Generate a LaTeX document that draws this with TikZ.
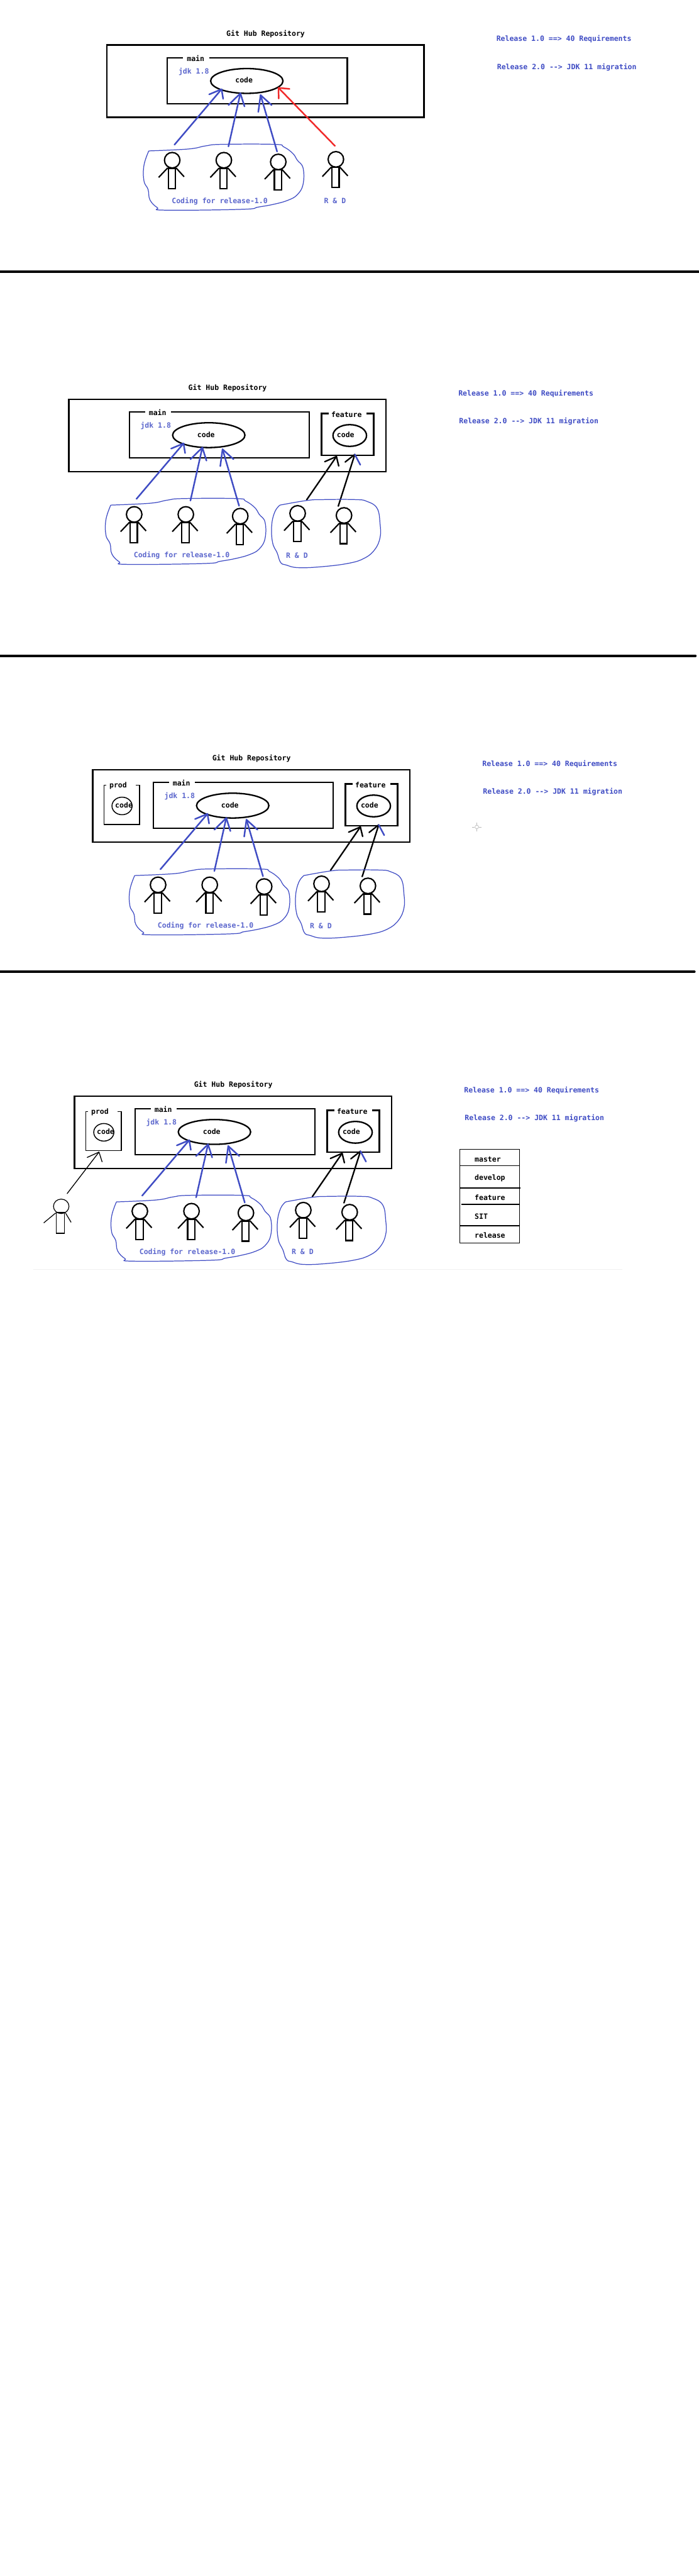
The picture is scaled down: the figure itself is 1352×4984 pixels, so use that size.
\documentclass[tikz,border=0pt]{standalone}
\usepackage{fontspec}
\usetikzlibrary{shapes.geometric}
\newfontfamily\diagmono{DejaVu Sans Mono}
\definecolor{penblue}{HTML}{3F4CC4}
\definecolor{penred}{HTML}{F02A2A}
\tikzset{
  panelscope/.style 2 args={shift={(180pt+#1pt,-30pt-#2pt)},x=0.4444pt,y=-0.3333pt},
  repo/.style={draw=black,line width=3.2pt,line join=miter},
  branch/.style={draw=black,line width=2.8pt,line join=miter},
  thinbranch/.style={draw=black,line width=1.8pt,line join=miter},
  blackline/.style={draw=black,line width=2.8pt,line cap=round,line join=round},
  blueline/.style={draw=penblue,line width=3pt,line cap=round,line join=round},
  redline/.style={draw=penred,line width=3pt,line cap=round,line join=round},
  thinline/.style={draw=black,line width=1.6pt,line cap=round,line join=round},
  blob/.style={draw=penblue,line width=1.5pt},
  ovalcode/.style={draw=black,ellipse,line width=2.8pt,inner sep=0pt,fill=none},
  headshape/.style={draw=black,ellipse,line width=2.6pt,inner sep=0pt,minimum width=30pt,minimum height=30pt},
  thinhead/.style={draw=black,ellipse,line width=1.5pt,inner sep=0pt,minimum width=30pt,minimum height=28pt},
  limb/.style={draw=black,line width=2.6pt},
  blacktext/.style={font=\diagmono\bfseries\fontsize{14}{16}\selectfont,text=black,inner sep=0pt},
  bluetext/.style={font=\diagmono\bfseries\fontsize{14}{16}\selectfont,text=penblue!85,inner sep=0pt},
  reltext/.style={font=\diagmono\bfseries\fontsize{14}{16}\selectfont,text=penblue,inner sep=0pt,anchor=west},
  sepline/.style={draw=black,line width=5pt,line cap=round},
}
% person: name, centre of head
\newcommand\zperson[3]{%
  \begin{scope}[shift={(#2,#3)}]
    \node[headshape] (#1) at (0,0) {};
    \draw[limb] (-17,46) rectangle (14,164);
    \draw[limb,line width=3.4pt] (-19,46) -- (17,46);
    \draw[limb] (-20,45) -- (-59,100);
    \draw[limb] (17,45) -- (52,96);
  \end{scope}}
% arrow: name, style, from, tip, barb, barb
\newcommand\zarrow[6]{%
  \coordinate (#1-s) at #3;
  \coordinate (#1-t) at #4;
  \draw[#2] (#1-s) -- (#1-t);
  \draw[#2] #5 -- (#1-t) -- #6;}
\newcommand\zcommon[1]{%
  \node[blacktext] (#1-title) at (752,108) {Git Hub Repository};
  \draw[repo] (60,172) rectangle (1442,592);
  \draw[branch] (392,246) -- (324,246) -- (324,512) -- (1108,512) -- (1108,246) -- (506,246);
  \node[blacktext] (#1-main) at (447,250) {main};
  \node[bluetext] (#1-jdk) at (439,327) {jdk 1.8};
  \node[ovalcode,minimum width=140pt,minimum height=48pt] (#1-code) at (670,380) {};
  \node[blacktext] (#1-codetxt) at (658,376) {code};
  \zperson{#1-p1}{345}{840}
  \zperson{#1-p2}{570}{840}
  \zperson{#1-p3}{807}{850}
  \zarrow{#1-a1}{blueline}{(355,750)}{(560,428)}{(506,458)}{(567,484)}
  \zarrow{#1-a2}{blueline}{(590,760)}{(642,452)}{(590,520)}{(660,528)}
  \zarrow{#1-a3}{blueline}{(802,790)}{(730,462)}{(720,560)}{(778,520)}
  \draw[blob] plot[smooth,tension=.7] coordinates {(243,786) (415,775) (490,757) (560,748) (790,748) (830,762) (870,800) (890,840) (915,885) (915,980) (890,1040) (850,1072) (790,1095) (720,1112) (650,1125) (315,1130) (280,1115) (248,1070) (240,1010) (222,960) (222,870) (243,786)};
  \node[bluetext] (#1-coding) at (552,1077) {Coding for release-1.0};
  \node[bluetext] (#1-rd) at (1054,1077) {R \& D};
  \node[reltext] (#1-rel1) at (1757,138) {Release 1.0 ==> 40 Requirements};
  \node[reltext] (#1-rel2) at (1760,300) {Release 2.0 --> JDK 11 migration};}
\newcommand\zfeature[1]{%
  \draw[branch] (1193,254) -- (1161,254) -- (1161,498) -- (1388,498) -- (1388,254) -- (1358,254);
  \node[blacktext] (#1-feat) at (1270,262) {feature};
  \node[ovalcode,minimum width=65pt,minimum height=42pt] (#1-fcode) at (1284,382) {};
  \node[blacktext] (#1-fcodetxt) at (1266,379) {code};
  \zperson{#1-p4}{1057}{834}
  \zperson{#1-p5}{1259}{846}
  \zarrow{#1-f1}{blackline}{(1096,756)}{(1226,504)}{(1175,534)}{(1236,559)}
  \coordinate (#1-f2-s) at (1234,792);
  \coordinate (#1-f2-t) at (1306,492);
  \draw[blackline] (#1-f2-s) -- (#1-f2-t);
  \draw[blackline] (1264,536) -- (#1-f2-t);
  \draw[blueline] (1330,552) -- (#1-f2-t);
  \draw[blob] plot[smooth,tension=.7] coordinates {(980,786) (1098,759) (1168,754) (1308,754) (1358,764) (1403,804) (1416,894) (1416,974) (1393,1044) (1348,1094) (1278,1124) (1158,1144) (1058,1149) (1008,1134) (983,1119) (968,1064) (948,1004) (944,904) (958,824) (980,786)};}
\newcommand\zprod[1]{%
  \draw[thinbranch] (119,261) -- (109,261) -- (109,489) -- (264,489) -- (264,261) -- (249,261);
  \node[blacktext] (#1-prod) at (171,266) {prod};
  \node[ovalcode,line width=1.8pt,minimum width=39pt,minimum height=34pt] (#1-pcode) at (188,382) {};
  \node[blacktext] (#1-pcodetxt) at (196,376) {code};}
\begin{document}
\begin{tikzpicture}[x=1pt,y=-1pt]
\useasboundingbox (0,0) rectangle (1352,4984);
\fill[white] (0,0) rectangle (1352,4984);
% separators
\coordinate (s1a) at (0,526); \coordinate (s1b) at (1352,526);
\coordinate (s2a) at (0,1269); \coordinate (s2b) at (1346,1269);
\coordinate (s3a) at (0,1880); \coordinate (s3b) at (1344,1880);
\draw[sepline] (s1a) -- (s1b);
\draw[sepline] (s2a) -- (s2b);
\draw[sepline] (s3a) -- (s3b);
% panel 1
\begin{scope}[panelscope={0}{0}]
  \zcommon{A}
  \zperson{A-p4}{1058}{835}
  \zarrow{A-red}{redline}{(1054,757)}{(808,420)}{(856,426)}{(809,482)}
\end{scope}
% panel 2
\begin{scope}[panelscope={-73.6}{685.3}]
  \zcommon{B}
  \zfeature{B}
\end{scope}
% panel 3
\begin{scope}[panelscope={-27.3}{1402}]
  \zcommon{C}
  \zfeature{C}
  \zprod{C}
\end{scope}
% cursor mark in panel 3
\begin{scope}[shift={(923,1600)}]
  \coordinate (cur) at (0,0);
  \draw[gray!55,line width=.8pt] (cur) circle (3.5);
  \draw[gray!55,line width=.8pt] (-9,0) -- (-4,0) (4,0) -- (9,0) (0,-9) -- (0,-4) (0,4) -- (0,9);
\end{scope}
% panel 4
\begin{scope}[panelscope={-62.6}{2033.4}]
  \zcommon{D}
  \zfeature{D}
  \zprod{D}
\end{scope}
\begin{scope}[shift={(60pt,-2080pt)},x=0.4571pt,y=-0.3333pt]
  \node[thinhead] (D-p0) at (128,762) {};
  \draw[limb,line width=1.5pt] (108,800) rectangle (142,918);
  \draw[limb,line width=2.2pt] (108,798) -- (144,798);
  \draw[limb,line width=1.5pt] (105,800) -- (54,858);
  \draw[limb,line width=1.5pt] (146,800) -- (170,855);
  \zarrow{D-a0}{thinline}{(153,688)}{(288,447)}{(238,478)}{(301,503)}
\end{scope}
% branch list
\begin{scope}[shift={(780pt,-2080pt)},x=0.3333pt,y=-0.3333pt]
  \draw[draw=black,line width=1.7pt] (331,431) rectangle (677,975);
  \draw[draw=black,line width=1.7pt] (331,526) -- (677,526);
  \draw[draw=black,line width=1.9pt] (329,655) -- (683,655);
  \draw[draw=black,line width=1.7pt] (339,750) -- (677,750);
  \draw[draw=black,line width=1.9pt] (329,875) -- (677,875);
  \node[blacktext,anchor=west] (L1) at (416,490) {master};
  \node[blacktext,anchor=west] (L2) at (416,600) {develop};
  \node[blacktext,anchor=west] (L3) at (416,710) {feature};
  \node[blacktext,anchor=west] (L4) at (416,820) {SIT};
  \node[blacktext,anchor=west] (L5) at (416,930) {release};
\end{scope}
\coordinate (fl) at (64,2456); \coordinate (fr) at (1205,2456);
\draw[black!6,line width=1.5pt] (fl) -- (fr);
\end{tikzpicture}
\end{document}
